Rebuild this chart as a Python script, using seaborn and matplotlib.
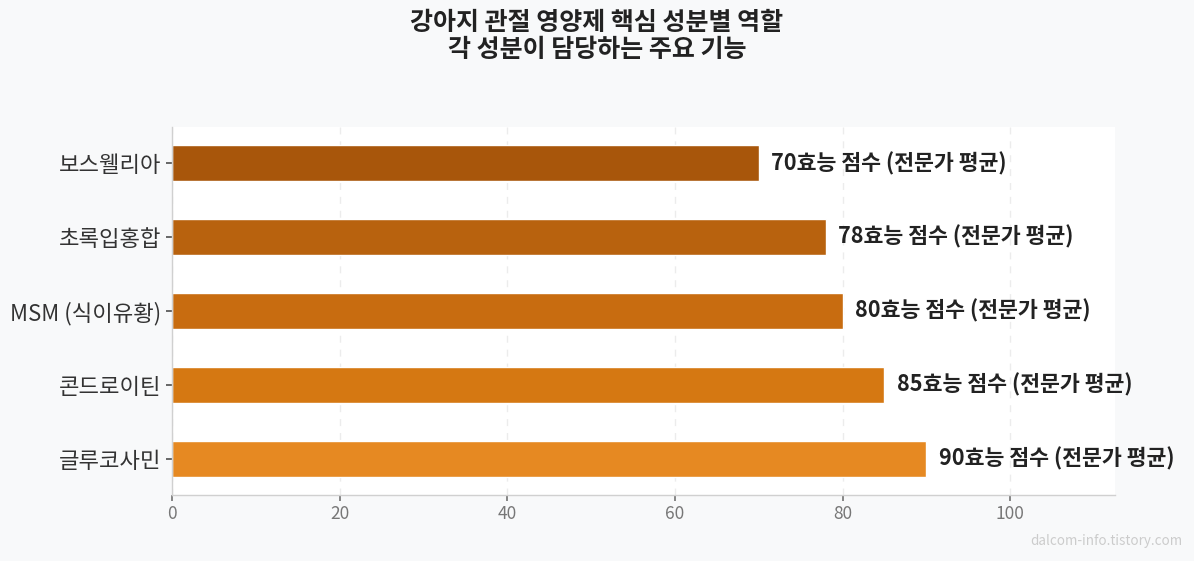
import matplotlib
matplotlib.use("Agg")
import matplotlib.pyplot as plt
import seaborn as sns
import pandas as pd

categories = ["보스웰리아", "초록입홍합", "MSM (식이유황)", "콘드로이틴", "글루코사민"]
values = [70, 78, 80, 85, 90]
colors = ["#a8560b", "#b8620e", "#c86c10", "#d57812", "#e68922"]
label_suffix = "효능 점수 (전문가 평균)"
title_text = "강아지 관절 영양제 핵심 성분별 역할\n각 성분이 담당하는 주요 기능"
watermark = "dalcom-info.tistory.com"

sns.set_theme(style="white")
plt.rcParams['font.family'] = ['Noto Sans CJK KR', 'DejaVu Sans']

df = pd.DataFrame({"성분": categories, "점수": values})

fig = plt.figure(figsize=(11.94, 5.61), dpi=100, facecolor="#f8f9fa")
ax = fig.add_axes([172/1194, 1-495/561, (1115-172)/1194, (495-127)/561])
ax.set_facecolor("white")

sns.barplot(data=df, x="점수", y="성분", hue="성분", palette=colors, order=categories,
            hue_order=categories, orient="h", width=0.48, legend=False, ax=ax, saturation=1)

ax.set_xlim(0, 112.5)
ax.set_ylim(4.49, -0.49)
ax.set_xticks([0, 20, 40, 60, 80, 100])
ax.xaxis.grid(True, linestyle=(0, (5, 5)), color="#ececec", linewidth=1)
ax.set_axisbelow(True)
ax.set_xlabel("")
ax.set_ylabel("")
for s in ["top", "right"]:
    ax.spines[s].set_visible(False)
for s in ["left", "bottom"]:
    ax.spines[s].set_color("#d0d0d0")
    ax.spines[s].set_linewidth(1)
ax.tick_params(axis="y", labelsize=16, labelcolor="#333333", length=4, color="#555555", left=True)
ax.tick_params(axis="x", labelsize=12.5, labelcolor="#777777", length=4, color="#777777", bottom=True)

for i, v in enumerate(values):
    ax.text(v + 1.5, i, f"{v}{label_suffix}", va="center", ha="left",
            fontsize=15.6, fontweight="bold", color="#222222")

fig.text(0.5, 0.935, title_text, ha="center", va="center", fontsize=18,
         fontweight="bold", color="#222222", linespacing=1.15)
fig.text(0.99, 0.035, watermark, ha="right", va="center", fontsize=9.7, color="#cccccc")

fig.savefig("out.png", dpi=100, facecolor=fig.get_facecolor())
